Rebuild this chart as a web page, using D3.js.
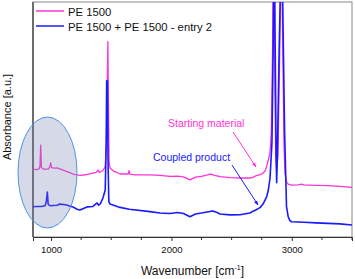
<!DOCTYPE html>
<html>
<head>
<meta charset="utf-8">
<script src="https://cdn.jsdelivr.net/npm/d3@7"></script>
<style>
  body { margin: 0; background: #fff; }
  svg { display: block; font-family: "Liberation Sans", Arial, sans-serif; }
</style>
</head>
<body>
<svg id="chart" width="355" height="279"></svg>
<script>
// wavenumber [cm-1], absorbance [a.u.]
const peWn = [850, 880, 900, 908, 914, 920, 940, 980, 990, 997, 1004, 1030, 1049, 1100, 1150, 1182, 1215, 1240, 1300, 1348, 1375, 1390, 1400, 1430, 1450, 1460, 1468, 1472, 1476, 1482, 1490, 1520, 1573, 1640, 1647, 1654, 1700, 1822, 1905, 1988, 2050, 2100, 2154, 2200, 2250, 2326, 2360, 2403, 2486, 2570, 2653, 2678, 2700, 2736, 2761, 2777, 2791, 2805, 2819, 2830, 2840, 2848, 2856, 2866, 2874, 2885, 2900, 2912, 2925, 2935, 2943, 2956, 2970, 2998, 3050, 3082, 3100, 3200, 3300, 3400, 3500];
const peAbs = [0.289, 0.287, 0.29, 0.30, 0.391, 0.295, 0.288, 0.29, 0.30, 0.315, 0.295, 0.293, 0.294, 0.285, 0.275, 0.268, 0.264, 0.262, 0.266, 0.272, 0.275, 0.285, 0.275, 0.282, 0.30, 0.40, 0.70, 0.831, 0.60, 0.32, 0.294, 0.28, 0.268, 0.268, 0.282, 0.268, 0.264, 0.264, 0.262, 0.258, 0.259, 0.256, 0.243, 0.255, 0.258, 0.268, 0.262, 0.257, 0.253, 0.251, 0.251, 0.254, 0.26, 0.265, 0.272, 0.28, 0.30, 0.328, 0.36, 0.45, 0.8, 1.3, 0.8, 0.35, 0.28, 0.35, 0.8, 1.3, 0.8, 0.4, 0.272, 0.235, 0.225, 0.221, 0.222, 0.225, 0.222, 0.22, 0.219, 0.215, 0.211];

const coupledWn = [850, 880, 920, 950, 960, 969, 976, 990, 1049, 1074, 1120, 1182, 1215, 1240, 1299, 1348, 1382, 1395, 1410, 1431, 1450, 1458, 1462, 1468, 1474, 1480, 1490, 1573, 1650, 1822, 1905, 1988, 2050, 2100, 2154, 2200, 2250, 2343, 2380, 2403, 2486, 2570, 2653, 2678, 2700, 2736, 2761, 2791, 2805, 2819, 2835, 2845, 2854, 2862, 2870, 2874, 2880, 2895, 2916, 2930, 2940, 2950, 2956, 2970, 2984, 2998, 3100, 3200, 3300, 3400, 3500];
const coupledAbs = [0.129, 0.130, 0.130, 0.133, 0.15, 0.191, 0.14, 0.133, 0.135, 0.140, 0.137, 0.128, 0.118, 0.115, 0.128, 0.13, 0.145, 0.135, 0.142, 0.166, 0.2, 0.4, 0.665, 0.665, 0.3, 0.15, 0.140, 0.126, 0.118, 0.108, 0.102, 0.100, 0.104, 0.100, 0.086, 0.098, 0.102, 0.111, 0.104, 0.098, 0.094, 0.095, 0.102, 0.110, 0.115, 0.125, 0.14, 0.171, 0.2, 0.25, 0.4, 0.8, 1.3, 0.8, 0.35, 0.231, 0.35, 0.8, 1.3, 0.8, 0.45, 0.25, 0.129, 0.086, 0.07, 0.065, 0.063, 0.06, 0.058, 0.056, 0.051];

const seriesNames = ["PE 1500", "PE 1500 + PE 1500 - entry 2"];
const seriesColors = ["#ff33d6", "#1a1aff"];
const majorTicks = [1000, 2000, 3000];
const minorTicks = [1250, 1500, 1750, 2250, 2500, 2750, 3250, 3500];

const svg = d3.select("#chart");
const plot = { left: 33, right: 352, top: 2, bottom: 237 };

const x = d3.scaleLinear().domain([850, 3500]).range([plot.left, plot.right]);
const y = d3.scaleLinear().domain([0, 1]).range([plot.bottom, plot.top]);

svg.append("defs").append("clipPath").attr("id", "clip")
  .append("rect")
  .attr("x", plot.left).attr("y", plot.top)
  .attr("width", plot.right - plot.left).attr("height", plot.bottom - plot.top);

// frame (top + right in lighter grey)
svg.append("rect")
  .attr("x", plot.left).attr("y", plot.top)
  .attr("width", plot.right - plot.left).attr("height", plot.bottom - plot.top)
  .attr("fill", "none").attr("stroke", "#888").attr("stroke-width", 1);

// bottom axis ----------
const xAxis = svg.append("g").attr("transform", `translate(0,${plot.bottom})`)
  .call(d3.axisBottom(x).tickValues(majorTicks).tickSize(4).tickPadding(5).tickFormat(d3.format("d")));
xAxis.select(".domain").attr("stroke", "#333");
xAxis.selectAll("line").attr("stroke", "#333");
xAxis.selectAll("text").attr("font-size", 9.5).attr("fill", "#111").attr("font-family", "Liberation Sans, Arial, sans-serif");

svg.append("g").attr("transform", `translate(0,${plot.bottom})`)
  .selectAll("line").data(minorTicks).enter().append("line")
  .attr("x1", d => x(d)).attr("x2", d => x(d))
  .attr("y1", 0).attr("y2", 3)
  .attr("stroke", "#333");

// left axis line
svg.append("line")
  .attr("x1", plot.left).attr("x2", plot.left)
  .attr("y1", plot.top).attr("y2", plot.bottom)
  .attr("stroke", "#333").attr("stroke-width", 1.2);

// axis titles
svg.append("text")
  .attr("x", (plot.left + plot.right) / 2).attr("y", 275)
  .attr("text-anchor", "middle").attr("font-size", 12).attr("fill", "#111")
  .html('Wavenumber [cm<tspan dy="-5" font-size="7">-1</tspan><tspan dy="5">]</tspan>');

svg.append("text")
  .attr("transform", "translate(11,117) rotate(-90)")
  .attr("text-anchor", "middle").attr("font-size", 11).attr("fill", "#111")
  .text("Absorbance [a.u.]");

// spectra ----------
const line = d3.line().x(d => x(d[0])).y(d => y(d[1]));
const spectra = [d3.zip(peWn, peAbs), d3.zip(coupledWn, coupledAbs)];

svg.append("g").attr("clip-path", "url(#clip)")
  .selectAll("path").data(spectra).enter().append("path")
  .attr("d", line)
  .attr("fill", "none")
  .attr("stroke", (d, i) => seriesColors[i])
  .attr("stroke-width", (d, i) => i === 0 ? 1.3 : 1.6)
  .attr("stroke-linejoin", "round");

// highlight ellipse
svg.append("ellipse")
  .attr("cx", 47.5).attr("cy", 172.5).attr("rx", 29.5).attr("ry", 55.5)
  .attr("fill", "rgba(120,130,180,0.3)")
  .attr("stroke", "#4a94e8").attr("stroke-width", 1);

// legend ----------
const legend = svg.append("g").selectAll("g").data(seriesNames).enter().append("g")
  .attr("transform", (d, i) => `translate(0,${11 + i * 15})`);
legend.append("line")
  .attr("x1", 36).attr("x2", 64).attr("y1", 0).attr("y2", 0)
  .attr("stroke", (d, i) => seriesColors[i]).attr("stroke-width", 1.5);
legend.append("text")
  .attr("x", 68).attr("y", 4.5)
  .attr("font-size", 11.3).attr("fill", "#111")
  .text(d => d);

// annotations ----------
const defs = svg.select("defs");
seriesColors.forEach((c, i) => {
  defs.append("marker").attr("id", "arrow" + i)
    .attr("viewBox", "0 0 10 10").attr("refX", 9).attr("refY", 5)
    .attr("markerWidth", 5).attr("markerHeight", 5).attr("orient", "auto")
    .append("path").attr("d", "M0,1.5 L10,5 L0,8.5 Z").attr("fill", c);
});

svg.append("text").attr("x", 168).attr("y", 127)
  .attr("font-size", 10.5).attr("fill", seriesColors[0]).text("Starting material");
svg.append("line")
  .attr("x1", 233).attr("y1", 132).attr("x2", 256).attr("y2", 167)
  .attr("stroke", seriesColors[0]).attr("stroke-width", 1)
  .attr("marker-end", "url(#arrow0)");

svg.append("text").attr("x", 153).attr("y", 161)
  .attr("font-size", 10.5).attr("fill", seriesColors[1]).text("Coupled product");
svg.append("line")
  .attr("x1", 232).attr("y1", 165).attr("x2", 258).attr("y2", 205)
  .attr("stroke", seriesColors[1]).attr("stroke-width", 1)
  .attr("marker-end", "url(#arrow1)");
</script>
</body>
</html>
